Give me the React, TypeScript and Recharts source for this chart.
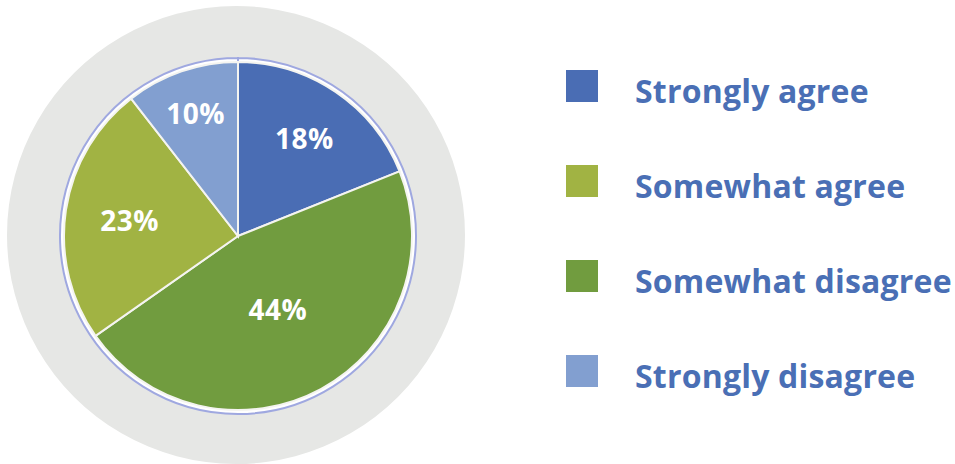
import React from 'react';
import { PieChart, Pie, Cell, Legend } from 'recharts';

const categories = ['Strongly agree', 'Somewhat disagree', 'Somewhat agree', 'Strongly disagree'];
const shares = [18, 44, 23, 10];
const sliceColors = ['#4a6db4', '#719c3f', '#a1b343', '#829fd0'];
const legendOrder = ['Strongly agree', 'Somewhat agree', 'Somewhat disagree', 'Strongly disagree'];
const labelRadiusFactor = [0.68, 0.48, 0.63, 0.75];
const backdrop = [{ name: 'backdrop', value: 1 }];

const data = categories.map((name, i) => ({ name, value: shares[i] }));

const RADIAN = Math.PI / 180;
const FONT = '"Open Sans", sans-serif';

const renderLabel = (props: any) => {
  const { cx, cy, midAngle, outerRadius, index, value } = props;
  const r = outerRadius * labelRadiusFactor[index];
  const x = cx + r * Math.cos(-midAngle * RADIAN);
  const y = cy + r * Math.sin(-midAngle * RADIAN);
  return (
    <text
      x={x}
      y={y}
      fill="#ffffff"
      textAnchor="middle"
      dominantBaseline="central"
      fontFamily={FONT}
      fontWeight={700}
      fontSize={28}
      letterSpacing={0.5}
    >
      {`${value}%`}
    </text>
  );
};

const renderLegend = () => (
  <div style={{ position: 'relative' }}>
    {legendOrder.map((name, i) => {
      const idx = categories.indexOf(name);
      return (
        <div key={name} style={{ position: 'relative', height: 32, marginBottom: i < 3 ? 63 : 0 }}>
          <div
            style={{
              position: 'absolute',
              left: 0,
              top: 0,
              width: 32,
              height: 32,
              background: sliceColors[idx],
            }}
          />
          <div
            style={{
              position: 'absolute',
              left: 69,
              top: 5,
              lineHeight: '32px',
              fontSize: 32,
              letterSpacing: '0.2px',
              fontWeight: 700,
              fontFamily: FONT,
              color: '#4a6fb5',
              whiteSpace: 'nowrap',
            }}
          >
            {name}
          </div>
        </div>
      );
    })}
  </div>
);

export default function App() {
  return (
    <div style={{ position: 'absolute', left: 0, top: 0, width: 955, height: 464, background: '#ffffff' }}>
      <PieChart width={955} height={464} margin={{ top: 0, right: 0, bottom: 0, left: 0 }}>
        <Pie
          data={backdrop}
          dataKey="value"
          cx={236}
          cy={235}
          outerRadius={229}
          startAngle={90}
          endAngle={-270}
          fill="#e6e7e5"
          stroke="none"
          isAnimationActive={false}
          legendType="none"
        />
        <Pie
          data={backdrop}
          dataKey="value"
          cx={238}
          cy={236}
          outerRadius={178}
          startAngle={90}
          endAngle={-270}
          fill="#ffffff"
          stroke="#9fa8e0"
          strokeWidth={2}
          isAnimationActive={false}
          legendType="none"
        />
        <Pie
          data={data}
          dataKey="value"
          nameKey="name"
          cx={238}
          cy={236}
          outerRadius={174}
          startAngle={90}
          endAngle={-270}
          stroke="#f4f4f0"
          strokeWidth={2}
          label={renderLabel}
          labelLine={false}
          isAnimationActive={false}
        >
          {data.map((d, i) => (
            <Cell key={d.name} fill={sliceColors[i]} />
          ))}
        </Pie>
        <Legend
          content={renderLegend}
          wrapperStyle={{ position: 'absolute', left: 566, top: 70, width: 389 }}
        />
      </PieChart>
    </div>
  );
}
